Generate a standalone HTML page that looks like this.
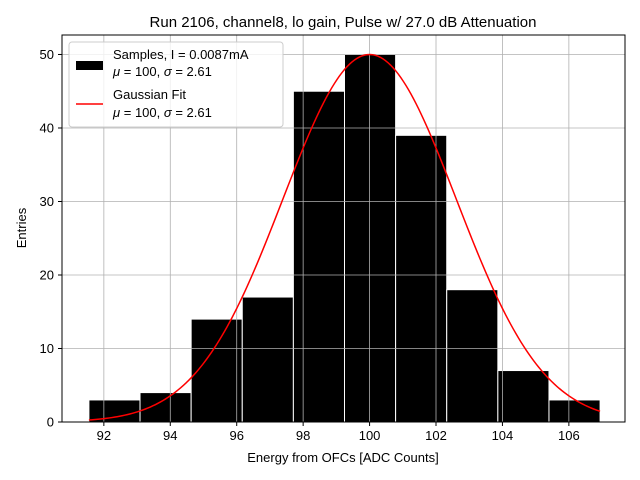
<!DOCTYPE html>
<html><head><meta charset="utf-8"><style>
body{margin:0;background:#fff;}
svg{display:block;font-family:"Liberation Sans","DejaVu Sans",sans-serif;}
</style></head><body>
<svg id="chart" width="640" height="480">
<rect x="0" y="0" width="640" height="480" fill="#fff"/>
<text x="343" y="27" font-size="15" text-anchor="middle">Run 2106, channel8, lo gain, Pulse w/ 27.0 dB Attenuation</text>
<g id="bars"></g>
<g id="grid"></g>
<g id="fit"></g>
<rect x="62" y="35" width="563" height="387" fill="none" stroke="#000" stroke-width="1"/>
<g id="ticks"></g>
<text x="343" y="462" font-size="13" text-anchor="middle">Energy from OFCs [ADC Counts]</text>
<text x="26" y="228" font-size="13" text-anchor="middle" transform="rotate(-90 26 228)">Entries</text>
<g>
<rect x="69" y="42" width="214" height="85" rx="3" fill="#fff" fill-opacity="0.8" stroke="#ccc"/>
<rect x="76" y="61" width="27" height="9" fill="#000"/>
<text x="113" y="59" font-size="13">Samples, I = 0.0087mA</text>
<text x="113" y="76" font-size="13"><tspan font-style="italic">μ</tspan> = 100, <tspan font-style="italic">σ</tspan> = 2.61</text>
<line x1="76" y1="104" x2="103" y2="104" stroke="red" stroke-width="1.5"/>
<text x="113" y="99" font-size="13">Gaussian Fit</text>
<text x="113" y="117" font-size="13"><tspan font-style="italic">μ</tspan> = 100, <tspan font-style="italic">σ</tspan> = 2.61</text>
</g>
</svg>
<script>
const binStart = 91.55;
const binWidth = 1.539;
const counts = [3,4,14,17,45,50,39,18,7,3];
const xTicks = [92,94,96,98,100,102,104,106];
const yTicks = [0,10,20,30,40,50];
const fitMu = 100, fitSigma = 2.61, fitPeak = 50;

const NS = "http://www.w3.org/2000/svg";
const X0=62,X1=625,Y0=422,Y1=35, xmin=90.74,xmax=107.69,ymin=0,ymax=52.65;
const xs=v=>X0+(v-xmin)/(xmax-xmin)*(X1-X0);
const ys=v=>Y0-(v-ymin)/(ymax-ymin)*(Y0-Y1);
function mk(tag,attrs,parent){const e=document.createElementNS(NS,tag);for(const k in attrs)e.setAttribute(k,attrs[k]);document.getElementById(parent).appendChild(e);return e;}

xTicks.forEach(t=>{
  const x=xs(t);
  const g=mk('line',{x1:x,x2:x,y1:Y1,y2:Y0,stroke:'#b0b0b0','stroke-width':0.8},'grid');
  
  
  const tk=mk('line',{x1:x,x2:x,y1:Y0,y2:Y0+4,stroke:'#000'},'ticks');
  
  
  const tl=mk('text',{x:x,y:Y0+18,'font-size':13,'text-anchor':'middle'},'ticks');
  tl.textContent=t;
  
  
});
yTicks.forEach(t=>{
  const y=ys(t);
  const g=mk('line',{x1:X0,x2:X1,y1:y,y2:y,stroke:'#b0b0b0','stroke-width':0.8},'grid');
  
  
  const tk=mk('line',{x1:X0-4,x2:X0,y1:y,y2:y,stroke:'#000'},'ticks');
  
  
  const tl=mk('text',{x:X0-8,y:y+4.5,'font-size':13,'text-anchor':'end'},'ticks');
  tl.textContent=t;
  
  
});
counts.forEach((c,i)=>{
  const a=xs(binStart+i*binWidth), b=xs(binStart+(i+1)*binWidth);
  const r=mk('rect',{x:a,y:ys(c),width:b-a,height:ys(0)-ys(c),fill:'#000',stroke:'#fff','stroke-width':1},'bars');
  
  
});
let pts=[];
const lo=binStart, hi=binStart+counts.length*binWidth;
for(let i=0;i<=200;i++){const v=lo+(hi-lo)*i/200;const y=fitPeak*Math.exp(-0.5*((v-fitMu)/fitSigma)**2);pts.push(xs(v).toFixed(2)+','+ys(y).toFixed(2));}
const p=mk('polyline',{points:pts.join(' '),fill:'none',stroke:'red','stroke-width':1.5},'fit');


</script>
</body></html>
